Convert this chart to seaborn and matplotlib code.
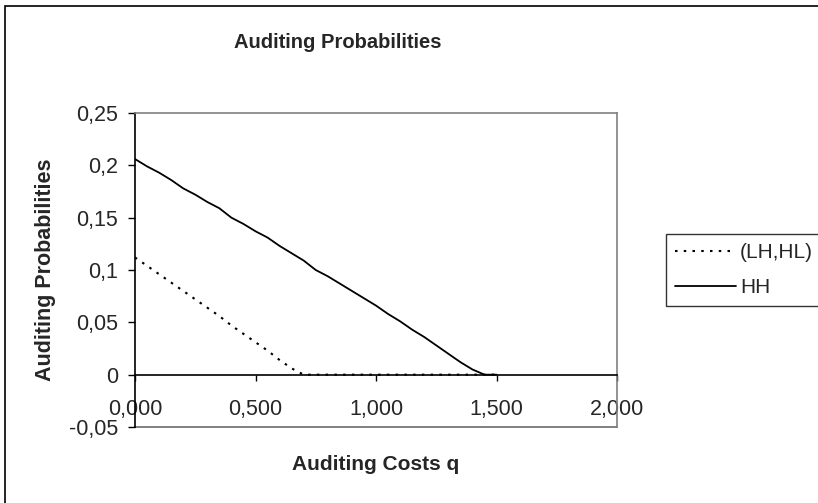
import numpy as np
import pandas as pd
import matplotlib
matplotlib.use('Agg')
import matplotlib.pyplot as plt
from matplotlib.ticker import FixedLocator, FuncFormatter
from matplotlib.patches import Rectangle
import seaborn as sns

# auditing costs q (x) and the two probability series
q = [0.00, 0.05, 0.10, 0.15, 0.20, 0.25, 0.30, 0.35, 0.40, 0.45,
     0.50, 0.55, 0.60, 0.65, 0.70, 0.75, 0.80, 0.85, 0.90, 0.95,
     1.00, 1.05, 1.10, 1.15, 1.20, 1.25, 1.30, 1.35, 1.40, 1.45, 1.50]
lh_hl = [0.112, 0.104, 0.096, 0.088, 0.080, 0.072, 0.064, 0.056, 0.047, 0.039,
         0.031, 0.023, 0.014, 0.006, 0.000, 0.000, 0.000, 0.000, 0.000, 0.000,
         0.000, 0.000, 0.000, 0.000, 0.000, 0.000, 0.000, 0.000, 0.000, 0.000, 0.000]
hh = [0.206, 0.199, 0.193, 0.186, 0.178, 0.172, 0.165, 0.159, 0.150, 0.144,
      0.137, 0.131, 0.123, 0.116, 0.109, 0.100, 0.094, 0.087, 0.080, 0.073,
      0.066, 0.058, 0.051, 0.043, 0.036, 0.028, 0.020, 0.012, 0.005, 0.000, 0.000]

x_ticks = [0.0, 0.5, 1.0, 1.5, 2.0]
y_ticks = [-0.05, 0.0, 0.05, 0.1, 0.15, 0.2, 0.25]

df = pd.DataFrame({'q': q, '(LH,HL)': lh_hl, 'HH': hh})

sns.set_theme(style='white')
plt.rcParams['font.family'] = ['Liberation Sans', 'DejaVu Sans']

W, H = 818, 503
fig = plt.figure(figsize=(W / 100, H / 100), dpi=100)

# outer chart border (only left and top are inside the picture)
fig.patches.append(Rectangle((5 / W, -0.1), 1.2, 1 - 6 / H + 0.1, transform=fig.transFigure,
                             fill=False, edgecolor='black', linewidth=1.2))

ax = fig.add_axes([135 / W, 1 - 427 / H, (617 - 135) / W, (427 - 113) / H])

sns.lineplot(data=df, x='q', y='(LH,HL)', ax=ax, color='black', linewidth=1.5,
             linestyle=(0, (1.2, 3.0)), label='(LH,HL)')
sns.lineplot(data=df, x='q', y='HH', ax=ax, color='black', linewidth=1.3, label='HH')

ax.set_xlim(0, 2)
ax.set_ylim(-0.05, 0.25)

# x axis crosses at 0, plot frame in grey
grey = '#808080'
ax.spines['bottom'].set_position(('data', 0))
ax.spines['bottom'].set_color('black')
ax.spines['left'].set_color('black')
ax.spines['top'].set_color(grey)
ax.spines['right'].set_color(grey)
for s in ax.spines.values():
    s.set_linewidth(1.2)
    s.set_visible(True)
ax.axhline(-0.05, color=grey, linewidth=1.4, clip_on=False, zorder=0)

ax.xaxis.set_major_locator(FixedLocator(x_ticks))
ax.yaxis.set_major_locator(FixedLocator(y_ticks))
ax.xaxis.set_major_formatter(FuncFormatter(lambda v, p: f"{v:.3f}".replace('.', ',')))
ax.yaxis.set_major_formatter(FuncFormatter(lambda v, p: f"{round(v, 2):g}".replace('.', ',')))
ax.tick_params(axis='x', direction='out', length=4.5, width=1, color='black',
               bottom=True, labelsize=15.5, pad=13)
ax.tick_params(axis='y', direction='out', length=5, width=1, color='black',
               left=True, labelsize=15.5, pad=7)

ax.set_xlabel('Auditing Costs q', fontsize=15, fontweight='bold')
ax.xaxis.label.set_va('center')
ax.xaxis.set_label_coords(0.5, (427 - 465) / (427 - 113))
ax.set_ylabel('Auditing Probabilities', fontsize=15.5, fontweight='bold')
ax.yaxis.label.set_va('center')
ax.yaxis.set_label_coords((46 - 135) / (617 - 135), 0.5)

fig.text(338 / W, 1 - 43 / H, 'Auditing Probabilities', fontsize=14.5, fontweight='bold',
         ha='center', va='center')

leg = ax.legend(loc='upper left', bbox_to_anchor=(666 / W, 1 - 234 / H),
                bbox_transform=fig.transFigure, borderaxespad=0, frameon=True,
                fancybox=False, edgecolor='black', fontsize=15, handlelength=2.9,
                handletextpad=0.2, borderpad=0.45, labelspacing=0.75)
leg.get_frame().set_linewidth(1.0)

fig.savefig('out.png', dpi=100)
